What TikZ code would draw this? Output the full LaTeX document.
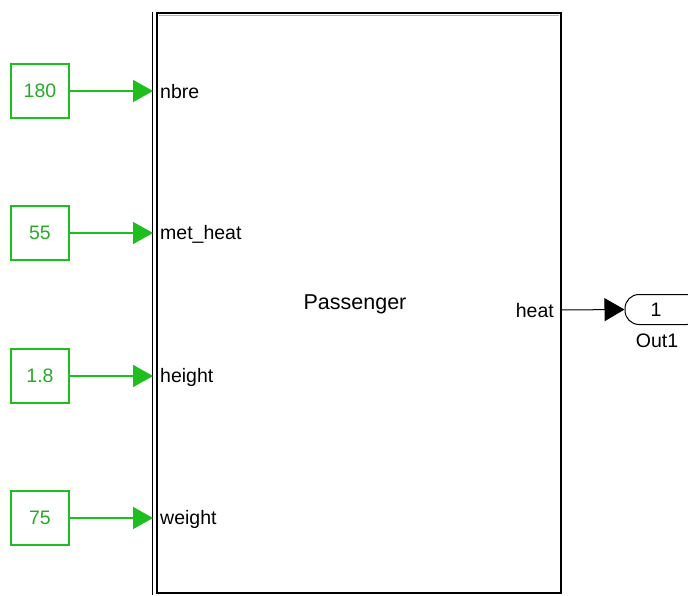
\documentclass[tikz,border=0pt]{standalone}
\usepackage{fontspec}
\setmainfont{Liberation Sans}
\usetikzlibrary{arrows.meta}
\definecolor{simgreen}{RGB}{30,190,30}
\definecolor{constgreen}{RGB}{40,170,40}
\begin{document}
\begin{tikzpicture}[x=1pt,y=-1pt,
  constbox/.style={draw=simgreen, line width=1.5pt, text=constgreen, minimum width=58pt, minimum height=54pt, inner sep=0pt, font=\fontsize{19.5}{19.5}\selectfont},
  sig/.style={draw=simgreen, line width=1.5pt, -{Triangle[length=20pt,width=22pt]}},
  outsig/.style={draw=black, line width=1pt, -{Triangle[length=20pt,width=23pt]}},
  portlbl/.style={inner sep=0pt, font=\fontsize{19.5}{19.5}\selectfont},
  blk/.style={draw=black, line width=2pt},
  txt/.style={inner sep=0pt, font=\fontsize{19.5}{19.5}\selectfont}]
\useasboundingbox (0,0) rectangle (688,596);
\clip (0,0) rectangle (688,596);
% main subsystem block
\draw[blk] (156.5,13) rectangle (560.5,593);
\draw[black, line width=1.2pt] (152.6,12) -- (152.6,594.5);
\draw[gray!60, line width=0.6pt] (158.5,15) -- (558.5,15);
\node[txt, font=\fontsize{21.5}{21.5}\selectfont] (title) at (355,304) {Passenger};
% ports
\coordinate (p1) at (153,91);
\coordinate (p2) at (153,233);
\coordinate (p3) at (153,376);
\coordinate (p4) at (153,518);
\coordinate (po) at (561,310);
\node[portlbl, anchor=west] (l1) at (160,92) {nbre};
\node[portlbl, anchor=west] (l2) at (160,234) {met\_heat};
\node[portlbl, anchor=west] (l3) at (160,377) {height};
\node[portlbl, anchor=west] (l4) at (160,519) {weight};
\node[portlbl, anchor=east] (lo) at (554,311) {heat};
% constants
\node[constbox] (c1) at (40,91) {180};
\node[constbox] (c2) at (40,233) {55};
\node[constbox] (c3) at (40,376) {1.8};
\node[constbox] (c4) at (40,518) {75};
\draw[sig] (c1.east) -- (p1);
\draw[sig] (c2.east) -- (p2);
\draw[sig] (c3.east) -- (p3);
\draw[sig] (c4.east) -- (p4);
% output port
\node[draw=black, line width=1pt, rounded corners=14pt, minimum width=76pt, minimum height=30pt, inner sep=0pt] (out) at (663,309.5) {};
\node[txt] (outnum) at (656,310) {1};
\node[txt] (outname) at (657,341) {Out1};
\draw[outsig] (po) -- (out.west);
\end{tikzpicture}
\end{document}
